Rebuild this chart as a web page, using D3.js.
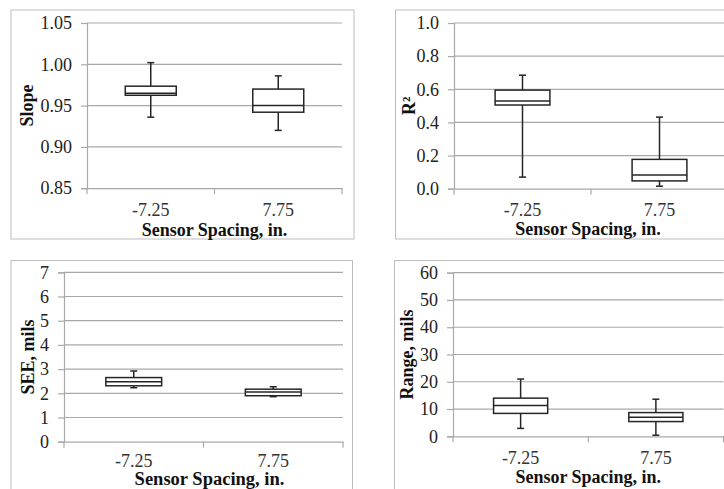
<!DOCTYPE html>
<html>
<head>
<meta charset="utf-8">
<script src="https://cdn.jsdelivr.net/npm/d3@7"></script>
<style>
  html, body { margin: 0; padding: 0; background: #fff; }
  svg { display: block; }
</style>
</head>
<body>
<svg id="chart" width="724" height="489"></svg>
<script>
// ---------------- DATA ----------------
const categories = ["-7.25", "7.75"];
const xTitle = "Sensor Spacing, in.";

// box statistics per category: [min, q1, median, q3, max]
const slopeStats = [[0.936, 0.9625, 0.965, 0.9735, 1.002], [0.920, 0.942, 0.950, 0.970, 0.986]];
const r2Stats    = [[0.070, 0.505, 0.530, 0.595, 0.685], [0.015, 0.047, 0.083, 0.177, 0.432]];
const seeStats   = [[2.23, 2.31, 2.48, 2.65, 2.92], [1.86, 1.90, 2.05, 2.17, 2.27]];
const rangeStats = [[2.9, 8.4, 11.3, 14.0, 21.0], [0.4, 5.4, 7.0, 8.7, 13.6]];

const slopeTicks = [0.85, 0.90, 0.95, 1.00, 1.05];
const r2Ticks    = [0.0, 0.2, 0.4, 0.6, 0.8, 1.0];
const seeTicks   = [0, 1, 2, 3, 4, 5, 6, 7];
const rangeTicks = [0, 10, 20, 30, 40, 50, 60];

const yTitles = ["Slope", "R²", "SEE, mils", "Range, mils"];

// ---------------- LAYOUT ----------------
const panels = [
  { stats: slopeStats, ticks: slopeTicks, fmt: d3.format(".2f"), title: yTitles[0],
    border: [11, 10, 343, 229], plot: [87, 23, 255, 165.2], titleX: 27,
    catY: 28, xtY: 47.5, xtDx: 0, xtSize: 18 },
  { stats: r2Stats, ticks: r2Ticks, fmt: d3.format(".1f"), title: yTitles[1],
    border: [395.5, 10, 400, 229], plot: [454, 23, 274, 165.7], titleX: 409,
    catY: 27.5, xtY: 46, xtDx: -3, xtSize: 18 },
  { stats: seeStats, ticks: seeTicks, fmt: d3.format("d"), title: yTitles[2],
    border: [11, 260.5, 341.5, 260], plot: [64, 272.3, 279, 169.4], titleX: 28,
    catY: 25, xtY: 43, xtDx: 6, xtSize: 18.5 },
  { stats: rangeStats, ticks: rangeTicks, fmt: d3.format("d"), title: yTitles[3],
    border: [394.5, 260.5, 400, 260], plot: [453, 272.7, 270.5, 163.6], titleX: 407,
    catY: 27.5, xtY: 47, xtDx: 0, xtSize: 18 }
];

const svg = d3.select("#chart");
const gridColor = "#a9a9a9";
const borderColor = "#bdbdbd";
const boxColor = "#262626";
const serif = "'Liberation Serif', 'Times New Roman', serif";

panels.forEach(p => {
  const [bx, by, bw, bh] = p.border;
  const [px, py, pw, ph] = p.plot;

  svg.append("rect")
    .attr("x", bx).attr("y", by).attr("width", bw).attr("height", bh)
    .attr("fill", "#fff").attr("stroke", borderColor).attr("stroke-width", 1);

  const g = svg.append("g");

  const x = d3.scaleBand().domain(categories).range([px, px + pw]).paddingInner(0).paddingOuter(0);
  const y = d3.scaleLinear().domain([p.ticks[0], p.ticks[p.ticks.length - 1]]).range([py + ph, py]);

  // gridlines
  g.selectAll(".grid").data(p.ticks.slice(1)).enter().append("line")
    .attr("x1", px).attr("x2", px + pw)
    .attr("y1", d => y(d)).attr("y2", d => y(d))
    .attr("stroke", gridColor).attr("stroke-width", 1.2);

  // y axis
  const yAxis = d3.axisLeft(y).tickValues(p.ticks).tickFormat(p.fmt).tickSize(6).tickPadding(9);
  const ya = g.append("g").attr("transform", `translate(${px},0)`).call(yAxis);
  ya.select(".domain").attr("stroke", gridColor).attr("stroke-width", 1.2);
  ya.selectAll(".tick line").attr("stroke", gridColor).attr("stroke-width", 1.2);
  ya.selectAll(".tick text").attr("font-family", serif).attr("font-size", 18).attr("fill", "#222");

  // x axis
  const xAxis = d3.axisBottom(x).tickSize(0).tickPadding(0);
  const xa = g.append("g").attr("transform", `translate(0,${py + ph})`).call(xAxis);
  xa.select(".domain").attr("stroke", gridColor).attr("stroke-width", 1.2);
  xa.selectAll(".tick text").attr("font-family", serif).attr("font-size", 18).attr("fill", "#333")
    .attr("dy", 0).attr("y", p.catY);
  // category boundary tick marks
  const bounds = categories.map(c => x(c)).concat([x(categories[categories.length - 1]) + x.bandwidth()]);
  g.selectAll(".bt").data(bounds).enter().append("line")
    .attr("x1", d => d).attr("x2", d => d)
    .attr("y1", py + ph).attr("y2", py + ph + 6)
    .attr("stroke", gridColor).attr("stroke-width", 1.2);

  // x title
  g.append("text")
    .attr("x", px + pw / 2 + p.xtDx)
    .attr("y", py + ph + p.xtY)
    .attr("text-anchor", "middle")
    .attr("font-family", serif).attr("font-weight", "bold").attr("font-size", p.xtSize).attr("fill", "#111")
    .text(xTitle);

  // y title
  g.append("text")
    .attr("transform", `translate(${p.titleX + 6},${py + ph / 2}) rotate(-90)`)
    .attr("text-anchor", "middle")
    .attr("font-family", serif).attr("font-weight", "bold").attr("font-size", 18).attr("fill", "#111")
    .text(p.title);

  // boxes
  const bw2 = x.bandwidth() * 0.4;
  const capW = 7;
  const boxes = g.selectAll(".box").data(p.stats).enter().append("g");
  boxes.each(function (s, i) {
    const cx = x(categories[i]) + x.bandwidth() / 2;
    const gg = d3.select(this);
    const [mn, q1, md, q3, mx] = s;
    // whiskers
    gg.append("line").attr("x1", cx).attr("x2", cx).attr("y1", y(mx)).attr("y2", y(q3))
      .attr("stroke", boxColor).attr("stroke-width", 1.5);
    gg.append("line").attr("x1", cx).attr("x2", cx).attr("y1", y(q1)).attr("y2", y(mn))
      .attr("stroke", boxColor).attr("stroke-width", 1.5);
    gg.append("line").attr("x1", cx - capW / 2).attr("x2", cx + capW / 2).attr("y1", y(mx)).attr("y2", y(mx))
      .attr("stroke", boxColor).attr("stroke-width", 1.5);
    gg.append("line").attr("x1", cx - capW / 2).attr("x2", cx + capW / 2).attr("y1", y(mn)).attr("y2", y(mn))
      .attr("stroke", boxColor).attr("stroke-width", 1.5);
    // box
    gg.append("rect").attr("x", cx - bw2 / 2).attr("y", y(q3))
      .attr("width", bw2).attr("height", y(q1) - y(q3))
      .attr("fill", "#fff").attr("stroke", boxColor).attr("stroke-width", 1.5);
    // median
    gg.append("line").attr("x1", cx - bw2 / 2).attr("x2", cx + bw2 / 2).attr("y1", y(md)).attr("y2", y(md))
      .attr("stroke", boxColor).attr("stroke-width", 1.5);
  });
});
</script>
</body>
</html>
